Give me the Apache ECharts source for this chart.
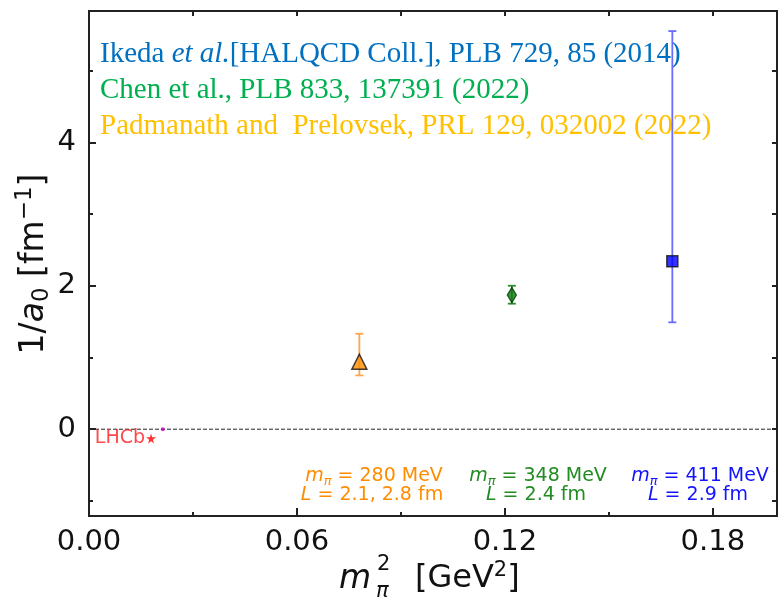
<!DOCTYPE html>
<html>
<head>
<meta charset="utf-8">
<script src="https://cdn.jsdelivr.net/npm/echarts@6/dist/echarts.min.js"></script>
<style>
  html, body { margin: 0; padding: 0; background: #fff; }
  #chart { width: 778px; height: 601px; }
</style>
</head>
<body>
<div id="chart"></div>
<script>
// lattice points: m_pi^2 [GeV^2], 1/a0 [fm^-1] with error bars
const pointNames = ['Padmanath & Prelovsek', 'Chen et al.', 'Ikeda et al.'];
const mpi2 = [0.078, 0.122, 0.1683];
const invA0 = [0.94, 1.87, 2.34];
const errLow = [0.75, 1.75, 1.49];
const errHigh = [1.33, 2.00, 5.55];
const pointColors = ['#ff8c00', '#0d7a0d', '#0000ff'];
const barColors = ['#ffa54f', '#2e8b2e', '#6b6bff'];
const pointSymbols = ['triangle', 'diamond', 'rect'];

// LHCb point and the small marker on the zero line
const lhcbPoint = [0.0179, -0.13];
const zeroMark = [0.0213, 0];

const xTicks = [0.00, 0.06, 0.12, 0.18];
const yTicks = [0, 2, 4];
const xRange = [0, 0.1985];
const yRange = [-1.21, 5.83];

const refLines = [
  { t: '{n|Ikeda }{i|et al.}{n|[HALQCD Coll.], PLB 729, 85 (2014)}', c: '#0070c0' },
  { t: '{n|Chen et al., PLB 833, 137391 (2022)}', c: '#00b050' },
  { t: '{n|Padmanath and  Prelovsek, PRL 129, 032002 (2022)}', c: '#ffc000' }
];
const mpiNotes = [
  { m: '280', L: '2.1, 2.8', c: '#ff8c00', x: 374 },
  { m: '348', L: '2.4', c: '#228b22', x: 538 },
  { m: '411', L: '2.9', c: '#1414ff', x: 700 }
];

let chart = echarts.init(document.getElementById('chart'));

const serif = '"Liberation Serif", "Times New Roman", serif';
const sans = '"DejaVu Sans", sans-serif';

let graphics = [];
refLines.forEach((r, i) => {
  graphics.push({
    type: 'text', left: 100, top: 40 + i * 36, z: 0,
    style: {
      text: r.t,
      rich: {
        n: { fontFamily: serif, fontSize: 29, fill: r.c },
        i: { fontFamily: serif, fontSize: 29, fontStyle: 'italic', fill: r.c }
      }
    }
  });
});
mpiNotes.forEach(n => {
  const rich = {
    i: { fontFamily: sans, fontSize: 19, fontStyle: 'italic', fill: n.c, lineHeight: 24 },
    n: { fontFamily: sans, fontSize: 19, fill: n.c, lineHeight: 24 },
    s: { fontFamily: sans, fontSize: 13, fontStyle: 'italic', fill: n.c, lineHeight: 12, verticalAlign: 'bottom' }
  };
  graphics.push({
    type: 'text', x: n.x, y: 476, z: 0,
    style: { text: '{i|m}{s|π}{n| = ' + n.m + ' MeV}', rich: rich, align: 'center', verticalAlign: 'middle' }
  });
  graphics.push({
    type: 'text', x: n.x - 2, y: 495, z: 0,
    style: { text: '{i|L}{n| = ' + n.L + ' fm}', rich: rich, align: 'center', verticalAlign: 'middle' }
  });
});
// axis titles
graphics.push({
  type: 'text', x: 34, y: 264, rotation: Math.PI / 2,
  style: {
    text: '{n|1/}{i|a}{sub|0}{n| [fm}{sup|−1}{n|]}',
    align: 'center', verticalAlign: 'middle',
    rich: {
      n: { fontFamily: sans, fontSize: 33, fill: '#111', lineHeight: 40 },
      i: { fontFamily: sans, fontSize: 33, fontStyle: 'italic', fill: '#111', lineHeight: 40 },
      sub: { fontFamily: sans, fontSize: 23, fill: '#111', lineHeight: 26, verticalAlign: 'bottom' },
      sup: { fontFamily: sans, fontSize: 23, fill: '#111', lineHeight: 26, verticalAlign: 'top' }
    }
  }
});
graphics.push({
  type: 'text', x: 339, y: 579,
  style: { text: 'm', fontFamily: sans, fontSize: 33, fontStyle: 'italic', fill: '#111', verticalAlign: 'middle' }
});
graphics.push({
  type: 'text', x: 376, y: 592,
  style: { text: 'π', fontFamily: sans, fontSize: 21, fontStyle: 'italic', fill: '#111', verticalAlign: 'middle' }
});
graphics.push({
  type: 'text', x: 377, y: 565,
  style: { text: '2', fontFamily: sans, fontSize: 21, fill: '#111', verticalAlign: 'middle' }
});
graphics.push({
  type: 'text', x: 415, y: 579,
  style: {
    text: '{n|[GeV}{sup|2}{n|]}', verticalAlign: 'middle',
    rich: {
      n: { fontFamily: sans, fontSize: 32, fill: '#111', lineHeight: 38 },
      sup: { fontFamily: sans, fontSize: 21, fill: '#111', lineHeight: 26, verticalAlign: 'top' }
    }
  }
});

const axisLineStyle = { color: '#222', width: 2 };

let option = {
  animation: false,
  grid: { left: 89, right: 1, top: 11, bottom: 85, show: true, borderColor: '#222', borderWidth: 2 },
  graphic: graphics,
  xAxis: [{
    type: 'value', min: xRange[0], max: xRange[1], interval: 0.06,
    axisLine: { show: true, onZero: false, lineStyle: axisLineStyle },
    axisTick: { inside: true, length: 8, lineStyle: { color: '#222', width: 2 } },
    minorTick: { show: true, splitNumber: 2, length: 4, lineStyle: { color: '#222', width: 2 } },
    splitLine: { show: false },
    axisLabel: {
      showMaxLabel: false, margin: 12, fontFamily: sans, fontSize: 29, color: '#111',
      formatter: v => xTicks.some(t => Math.abs(t - v) < 1e-9) ? v.toFixed(2) : ''
    }
  }, {
    type: 'value', position: 'top', min: xRange[0], max: xRange[1], interval: 0.03,
    axisLine: { show: true, onZero: false, lineStyle: axisLineStyle },
    axisTick: { inside: true, length: 5, lineStyle: { color: '#222', width: 2 } },
    splitLine: { show: false }, axisLabel: { show: false }
  }],
  yAxis: [{
    type: 'value', min: yRange[0], max: yRange[1], minInterval: 2, maxInterval: 2, splitNumber: 4,
    axisLine: { show: true, onZero: false, lineStyle: axisLineStyle },
    axisTick: { inside: true, length: 7, lineStyle: { color: '#222', width: 2 } },
    minorTick: { show: true, splitNumber: 2, length: 4, lineStyle: { color: '#222', width: 2 } },
    splitLine: { show: false },
    axisLabel: {
      showMinLabel: false, showMaxLabel: false, margin: 13, fontFamily: sans, fontSize: 29, color: '#111',
      formatter: v => yTicks.indexOf(Math.round(v)) >= 0 && Math.abs(v - Math.round(v)) < 1e-9 ? String(Math.round(v)) : ''
    }
  }, {
    type: 'value', position: 'right', min: yRange[0], max: yRange[1], minInterval: 1, maxInterval: 1, splitNumber: 7,
    axisLine: { show: true, onZero: false, lineStyle: axisLineStyle },
    axisTick: { inside: true, length: 5, lineStyle: { color: '#222', width: 2 } },
    splitLine: { show: false }, axisLabel: { show: false }
  }],
  series: [
    {
      type: 'line', name: 'zero', z: 3,
      data: [[xRange[0], 0], [xRange[1], 0]],
      symbol: 'none', silent: true,
      lineStyle: { color: '#222', width: 1, type: [4, 2] }
    },
    {
      type: 'custom', name: 'errors', z: 4,
      data: mpi2.map((x, i) => [x, errLow[i], errHigh[i], i]),
      renderItem: (params, api) => {
        const x = api.value(0);
        const lo = api.coord([x, api.value(1)]);
        const hi = api.coord([x, api.value(2)]);
        const c = barColors[api.value(3)];
        const style = { stroke: c, lineWidth: 1.8 };
        return {
          type: 'group',
          children: [
            { type: 'line', shape: { x1: lo[0], y1: lo[1], x2: hi[0], y2: hi[1] }, style: style },
            { type: 'line', shape: { x1: lo[0] - 4, y1: lo[1], x2: lo[0] + 4, y2: lo[1] }, style: style },
            { type: 'line', shape: { x1: hi[0] - 4, y1: hi[1], x2: hi[0] + 4, y2: hi[1] }, style: style }
          ]
        };
      }
    },
    {
      type: 'scatter', name: 'lattice', z: 5,
      data: mpi2.map((x, i) => ({
        value: [x, invA0[i]],
        symbol: pointSymbols[i],
        symbolSize: i === 0 ? 15 : (i === 1 ? [9, 15] : 11),
        itemStyle: { color: pointColors[i], borderColor: i === 1 ? '#063d06' : '#111', borderWidth: 1.5 }
      }))
    },
    {
      type: 'scatter', name: 'LHCb', z: 5,
      data: [lhcbPoint],
      symbol: 'path://M50,0 L61,35 L98,35 L68,57 L79,91 L50,70 L21,91 L32,57 L2,35 L39,35 Z',
      symbolSize: 10,
      itemStyle: { color: '#ff0000' },
      label: {
        show: true, position: 'left', distance: 1, formatter: 'LHCb',
        fontFamily: sans, fontSize: 19, color: '#ff1a1a'
      }
    },
    {
      type: 'scatter', name: 'mark', z: 5,
      data: [zeroMark], symbol: 'circle', symbolSize: 4,
      itemStyle: { color: '#c000c0' }
    }
  ]
};
chart.setOption(option);
window.addEventListener('resize', () => { chart.resize() });
</script>
</body>
</html>
